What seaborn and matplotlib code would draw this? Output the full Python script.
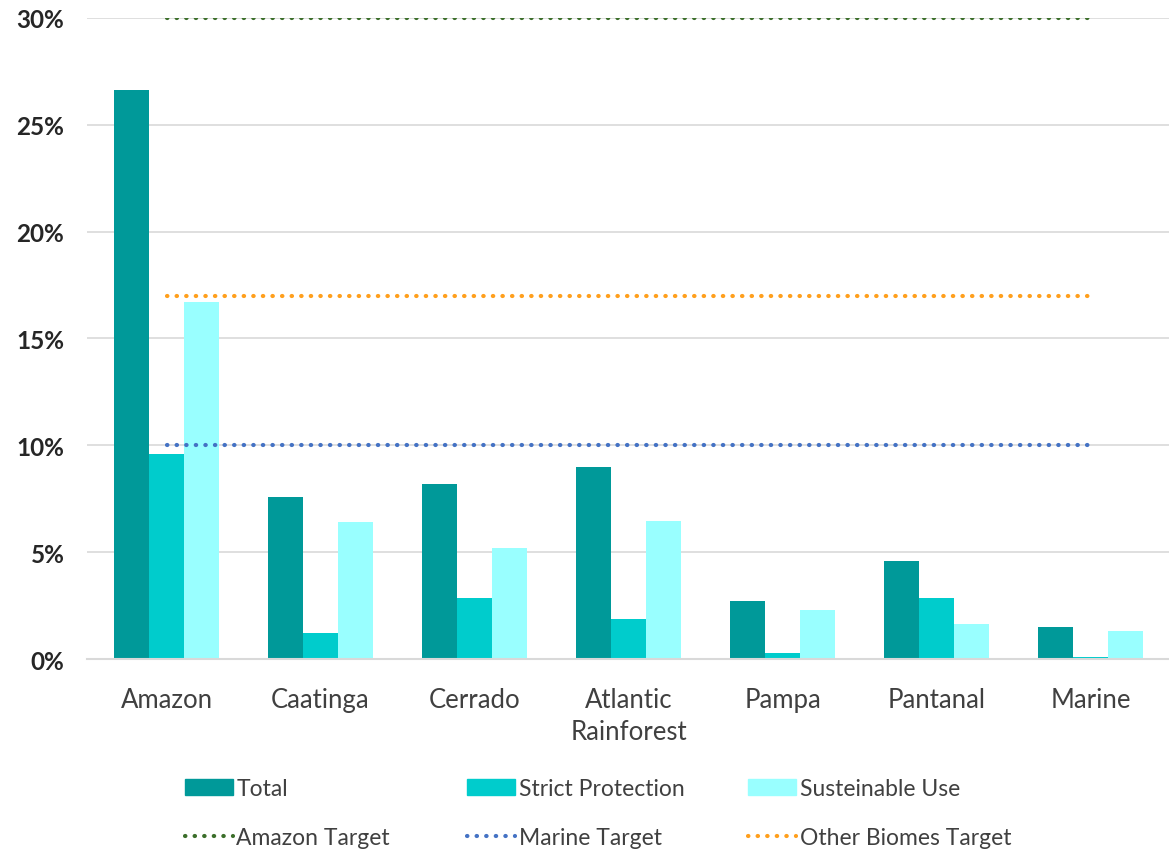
import matplotlib
matplotlib.use("Agg")
import matplotlib.pyplot as plt
from matplotlib.ticker import PercentFormatter
from matplotlib.lines import Line2D
import seaborn as sns
import pandas as pd

# Data (share of biome area, %)
biomes = ["Amazon", "Caatinga", "Cerrado", "Atlantic\nRainforest", "Pampa", "Pantanal", "Marine"]
total = [26.6, 7.6, 8.2, 9.0, 2.7, 4.6, 1.5]
strict_protection = [9.6, 1.2, 2.85, 1.9, 0.3, 2.85, 0.1]
sustainable_use = [16.7, 6.4, 5.2, 6.45, 2.3, 1.65, 1.3]

series_names = ["Total", "Strict Protection", "Susteinable Use"]
series_colors = ["#009999", "#00CCCC", "#99FFFF"]

target_names = ["Amazon Target", "Marine Target", "Other Biomes Target"]
target_values = [30, 10, 17]
target_colors = ["#3B6E2A", "#4472C4", "#FF9F1C"]

DOTS = (0, (0.1, 2.2))

df = pd.DataFrame({
    "biome": biomes * 3,
    "series": [s for s in series_names for _ in biomes],
    "value": total + strict_protection + sustainable_use,
})

sns.set_style("white")
plt.rcParams["font.family"] = ["Lato", "DejaVu Sans"]

fig = plt.figure(figsize=(11.69, 8.54), dpi=100)
ax = fig.add_axes([0.074, 0.227, 0.926, 0.751])

sns.barplot(data=df, x="biome", y="value", hue="series", order=biomes,
            hue_order=series_names, palette=series_colors, width=0.68,
            saturation=1, linewidth=0, legend=False, ax=ax)

# horizontal target lines spanning first to last biome
for name, val, col in zip(target_names, target_values, target_colors):
    sns.lineplot(x=biomes, y=[val] * len(biomes), color=col, linewidth=3,
                 linestyle=DOTS, ax=ax)
for line in ax.get_lines():
    line.set_dash_capstyle("round")

ax.set_ylim(0, 30)
ax.set_xlim(-0.52, 6.51)
ax.set_yticks(range(0, 31, 5))
ax.yaxis.set_major_formatter(PercentFormatter(decimals=0))
ax.grid(axis="y", color="#D9D9D9", linewidth=1.2)
ax.set_axisbelow(True)
for side in ["top", "right", "left"]:
    ax.spines[side].set_visible(False)
ax.spines["bottom"].set_color("#D9D9D9")
ax.spines["bottom"].set_linewidth(1.5)
ax.tick_params(axis="y", length=0, pad=16, labelsize=17.5, labelcolor="#262626")
ax.tick_params(axis="x", length=0, pad=20, labelsize=18.5, labelcolor="#404040")
for lbl in ax.get_yticklabels():
    lbl.set_fontweight("bold")
for lbl in ax.get_xticklabels():
    lbl.set_linespacing(1.35)
ax.set_xlabel("")
ax.set_ylabel("")

# legend: one small legend per column, bars on top row, targets below
col_x = [0.158, 0.3995, 0.64]
for i in range(3):
    h = [plt.Rectangle((0, 0), 1, 1, color=series_colors[i]),
         Line2D([0], [0], color=target_colors[i], linewidth=3, linestyle=DOTS,
                dash_capstyle="round")]
    fig.legend(h, [series_names[i], target_names[i]], loc="upper left",
               bbox_to_anchor=(col_x[i], 0.088), frameon=False, fontsize=16.5,
               labelcolor="#404040", handlelength=2.1, handletextpad=0.15,
               labelspacing=1.25, borderpad=0, borderaxespad=0)

fig.savefig("out.png", dpi=100)
